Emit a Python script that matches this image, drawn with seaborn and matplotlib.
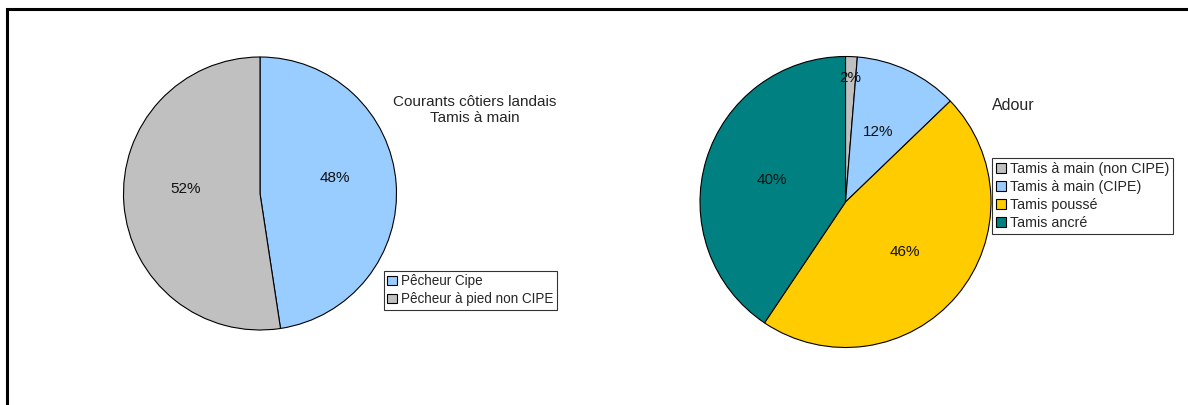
import matplotlib
matplotlib.use("Agg")
import matplotlib.pyplot as plt
import matplotlib.patches as mpatches
import numpy as np
import seaborn as sns

# ---- data ----
left_title = "Courants côtiers landais\nTamis à main"
left_labels = ["Pêcheur Cipe", "Pêcheur à pied non CIPE"]
left_values = [47.6, 52.4]
left_pct_text = ["48%", "52%"]

right_title = "Adour"
right_labels = ["Tamis à main (non CIPE)", "Tamis à main (CIPE)", "Tamis poussé", "Tamis ancré"]
right_values = [1.3, 11.5, 46.6, 40.6]
right_pct_text = ["2%", "12%", "46%", "40%"]

left_colors = ["#99CCFF", "#C0C0C0"]
right_colors = ["#C0C0C0", "#99CCFF", "#FFCC00", "#008080"]

sns.set_theme(style="white")
plt.rcParams["font.family"] = ["Liberation Sans", "DejaVu Sans"]

W, H = 1188, 405
fig = plt.figure(figsize=(W / 100, H / 100), dpi=100)
fig.patch.set_facecolor("white")


def pie_axes(cx, cy, r):
    ax = fig.add_axes([(cx - r) / W, (H - cy - r) / H, 2 * r / W, 2 * r / H])
    return ax


def draw_pie(ax, values, colors, texts, pctdist, small_push=None, lift=0.0):
    wedges, _ = ax.pie(values, colors=colors, startangle=90, counterclock=False,
                       radius=1.0, wedgeprops=dict(edgecolor="black", linewidth=0.8))
    total = sum(values)
    for i, (w, t) in enumerate(zip(wedges, texts)):
        ang = np.deg2rad((w.theta1 + w.theta2) / 2)
        d = pctdist
        if small_push is not None and values[i] / total < 0.05:
            d = small_push
        ax.annotate(t, (d * np.cos(ang), d * np.sin(ang)), xytext=(0, lift),
                    textcoords="offset pixels", ha="center", va="center",
                    fontsize=11, color="#111111")
    ax.set_xlim(-1, 1)
    ax.set_ylim(-1, 1)
    ax.set_aspect("auto")
    ax.axis("off")
    return wedges


axL = pie_axes(260, 193.5, 136.5)
draw_pie(axL, left_values, left_colors, left_pct_text, 0.55, lift=10)

axR = pie_axes(845.5, 202, 145.5)
draw_pie(axR, right_values, right_colors, right_pct_text, 0.53, small_push=0.85)

# titles
fig.text(475 / W, 1 - 110 / H, left_title, ha="center", va="center", fontsize=11,
         linespacing=1.1)
fig.text(992 / W, 1 - 105 / H, right_title, ha="left", va="center", fontsize=11.5)


def make_legend(labels, colors, x, y, fs, spacing):
    handles = [mpatches.Patch(facecolor=c, edgecolor="black", linewidth=0.8) for c in colors]
    leg = fig.legend(handles, labels, loc="upper left", bbox_to_anchor=(x / W, 1 - y / H),
                     bbox_transform=fig.transFigure, fontsize=fs, frameon=True,
                     fancybox=False, handlelength=0.7, handleheight=0.7,
                     handletextpad=0.3, borderpad=0.25, labelspacing=spacing,
                     borderaxespad=0)
    fr = leg.get_frame()
    fr.set_edgecolor("black")
    fr.set_linewidth(0.8)
    return leg


make_legend(left_labels, left_colors, 384, 271, 9.75, 0.3)
make_legend(right_labels, right_colors, 992, 158, 10.3, 0.3)

# outer frame (clipped at right and bottom)
frame = mpatches.Rectangle((7 / W, -0.2), 2, 1.2 - 9 / H, transform=fig.transFigure,
                           fill=False, edgecolor="black", linewidth=2.2)
fig.patches.append(frame)

fig.savefig("out.png", dpi=100)
